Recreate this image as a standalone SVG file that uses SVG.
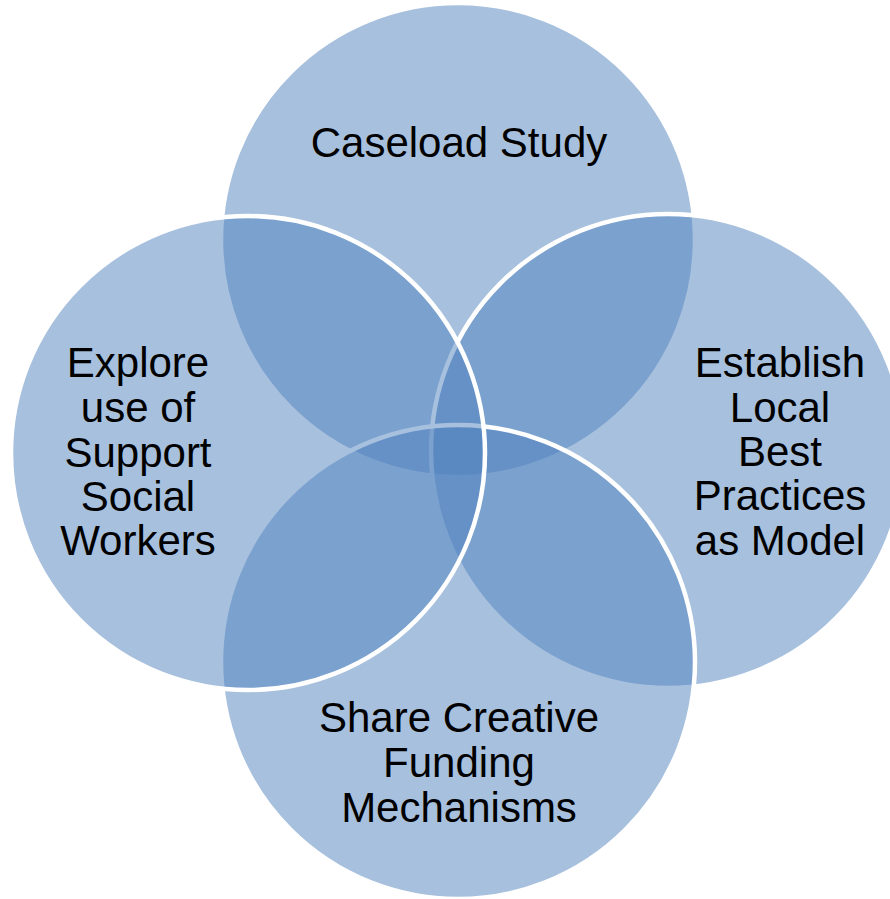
<svg xmlns="http://www.w3.org/2000/svg" width="890" height="899" viewBox="0 0 890 899">
<style>
.c{fill:#4F81BD;fill-opacity:0.5;stroke:#FFFFFF;stroke-width:4.5}
.t{font-family:"Liberation Sans",Arial,sans-serif;font-size:42px;fill:#000000;text-anchor:middle}
</style>
<rect width="890" height="899" fill="#FFFFFF"/>
<g id="node-caseload">
<circle class="c" cx="458" cy="240" r="237"/>
</g>
<g id="node-establish">
<circle class="c" cx="668" cy="451" r="237"/>
</g>
<g id="node-share">
<circle class="c" cx="458" cy="662" r="237"/>
</g>
<g id="node-explore">
<circle class="c" cx="248" cy="453" r="237"/>
</g>
<g id="connectors"></g>
<g id="labels">
<text class="t" x="459" y="157">Caseload Study</text>
<text class="t" x="780" y="377">Establish</text>
<text class="t" x="780" y="422">Local</text>
<text class="t" x="780" y="466">Best</text>
<text class="t" x="780" y="510">Practices</text>
<text class="t" x="780" y="555">as Model</text>
<text class="t" x="459" y="732">Share Creative</text>
<text class="t" x="459" y="777">Funding</text>
<text class="t" x="459" y="822">Mechanisms</text>
<text class="t" x="138" y="377">Explore</text>
<text class="t" x="138" y="422">use of</text>
<text class="t" x="138" y="467">Support</text>
<text class="t" x="138" y="511">Social</text>
<text class="t" x="138" y="555">Workers</text>
</g>
</svg>
